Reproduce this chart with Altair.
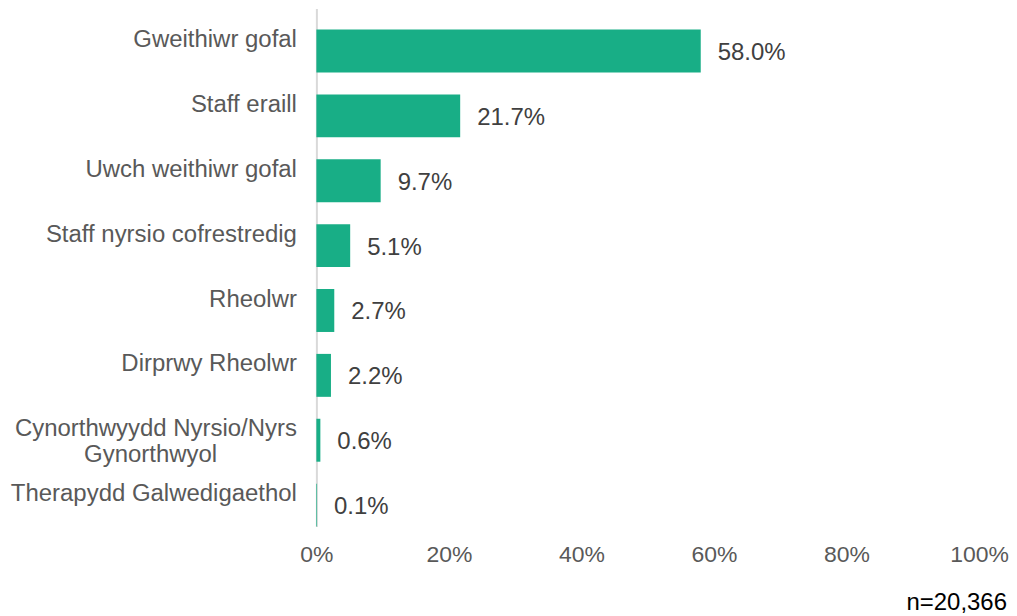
import altair as alt
import pandas as pd

NB = "\u00a0"
categories = [
    "Gweithiwr gofal",
    "Staff eraill",
    "Uwch weithiwr gofal",
    "Staff nyrsio cofrestredig",
    "Rheolwr",
    "Dirprwy Rheolwr",
    "Cynorthwyydd Nyrsio/Nyrs|Gynorthwyol",
    "Therapydd Galwedigaethol",
]
values = [58.0, 21.7, 9.7, 5.1, 2.7, 2.2, 0.6, 0.1]
x_ticks = [0, 20, 40, 60, 80, 100]
note = ["n=20,366"]

df = pd.DataFrame({"cat": categories, "val": values})
df["lab"] = [f"{v:.1f}%" for v in values]

FONT = "Liberation Sans"
FS = 24

pad2 = NB * 12 + "\u2060"

y_enc = alt.Y(
    "cat:N",
    sort=categories,
    scale=alt.Scale(paddingInner=0.338, paddingOuter=0.1615, align=1),
    axis=alt.Axis(
        title=None,
        ticks=False,
        domain=True,
        domainColor="#d9d9d9",
        domainWidth=2,
        labelFont=FONT,
        labelFontSize=FS,
        labelColor="#595959",
        labelPadding=20,
        labelOffset=-11,
        labelLimit=400,
        labelExpr="indexof(datum.label, '|') < 0 ? datum.label : [split(datum.label, '|')[0], split(datum.label, '|')[1] + '" + pad2 + "']",
    ),
)

x_enc = alt.X(
    "val:Q",
    scale=alt.Scale(domain=[0, 100], nice=False),
    axis=alt.Axis(
        title=None,
        values=x_ticks,
        grid=False,
        ticks=False,
        domain=False,
        labelFlush=False,
        labelFont=FONT,
        labelFontSize=23,
        labelColor="#595959",
        labelPadding=17,
        labelExpr="datum.value + '%'",
    ),
)

bars = alt.Chart(df).mark_bar(color="#18ae86").encode(x=x_enc, y=y_enc)

labels = alt.Chart(df).mark_text(
    align="left", baseline="middle", dx=17, dy=2, font=FONT, fontSize=FS, color="#404040"
).encode(x="val:Q", y=alt.Y("cat:N", sort=categories), text="lab:N")

note_layer = alt.Chart(pd.DataFrame({"t": note})).mark_text(
    align="right", baseline="middle", font=FONT, fontSize=FS, color="#000000"
).encode(x=alt.value(692), y=alt.value(596), text="t:N")

chart = (
    alt.layer(bars, labels, note_layer)
    .properties(
        width=664,
        height=519,
        autosize=alt.AutoSizeParams(type="none"),
        padding={"left": 309, "top": 0, "right": 30, "bottom": 89},
    )
    .configure_view(stroke=None)
)

chart.save("out.html", embed_options={"renderer": "svg", "actions": False})
